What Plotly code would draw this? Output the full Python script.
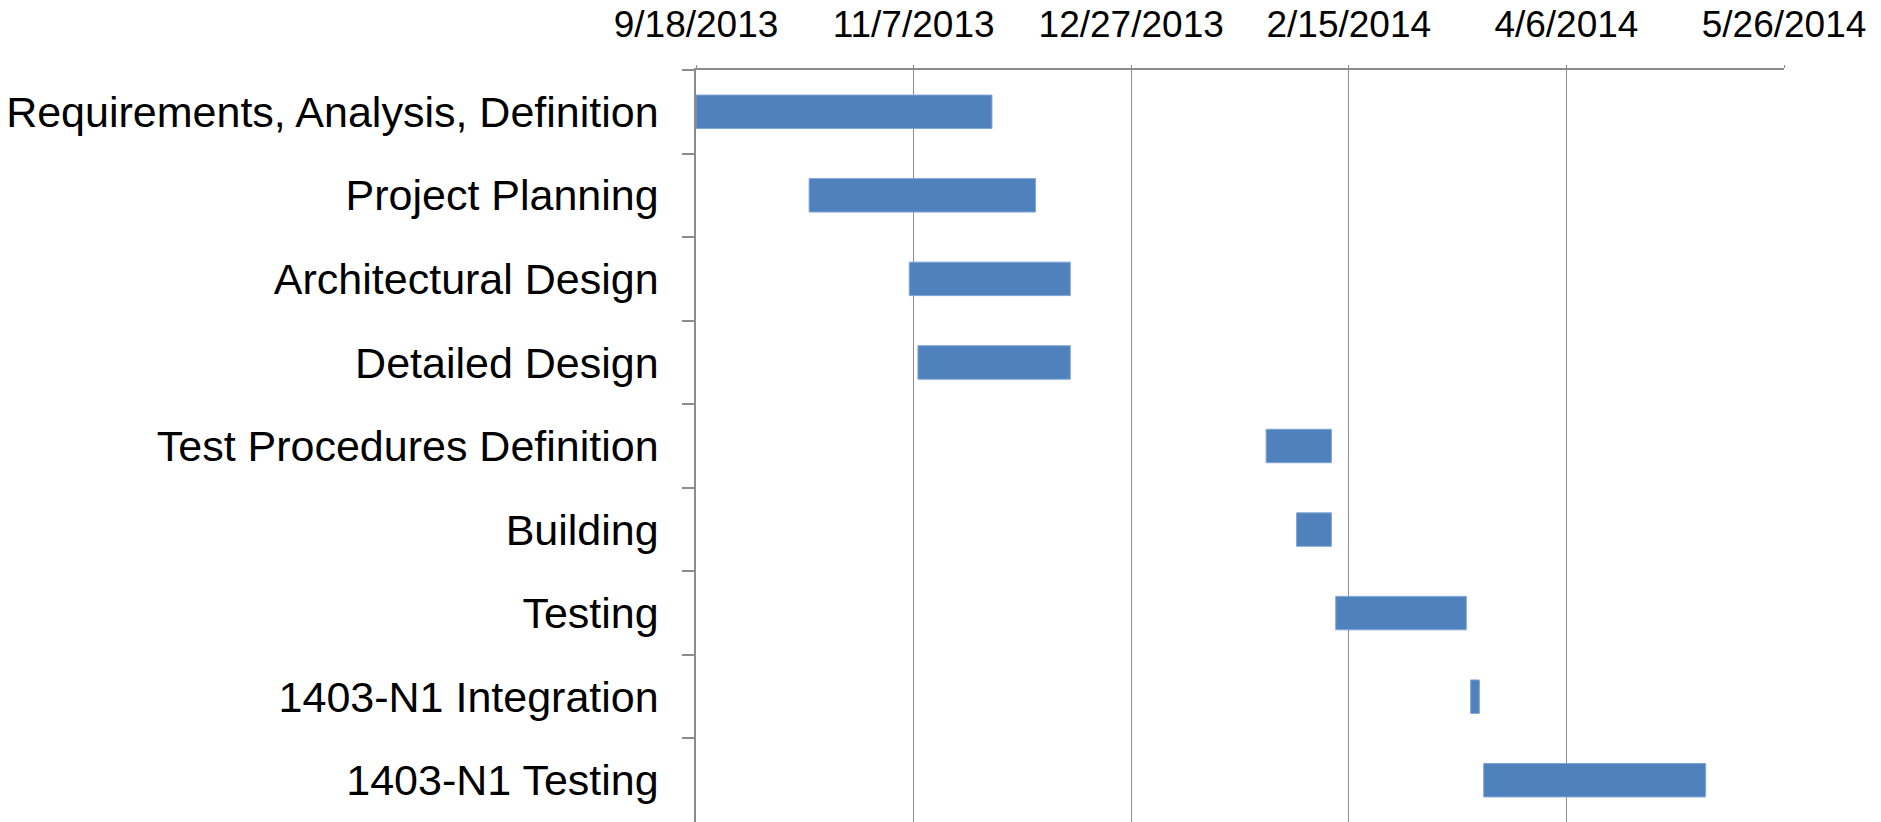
import plotly.graph_objects as go
import pandas as pd

tasks = [
    "Requirements, Analysis, Definition",
    "Project Planning",
    "Architectural Design",
    "Detailed Design",
    "Test Procedures Definition",
    "Building",
    "Testing",
    "1403-N1 Integration",
    "1403-N1 Testing",
]
start_dates = [
    "2013-09-18", "2013-10-14", "2013-11-06", "2013-11-08",
    "2014-01-27", "2014-02-03", "2014-02-12", "2014-03-15", "2014-03-18",
]
end_dates = [
    "2013-11-25", "2013-12-05", "2013-12-13", "2013-12-13",
    "2014-02-11", "2014-02-11", "2014-03-14", "2014-03-17", "2014-05-08",
]
tick_dates = ["2013-09-18", "2013-11-07", "2013-12-27", "2014-02-15", "2014-04-06", "2014-05-26"]
tick_labels = ["9/18/2013", "11/7/2013", "12/27/2013", "2/15/2014", "4/6/2014", "5/26/2014"]

starts = pd.to_datetime(pd.Series(start_dates))
ends = pd.to_datetime(pd.Series(end_dates))
durations_ms = ((ends - starts).dt.total_seconds() * 1000).tolist()

FONT = "Liberation Sans, Arial, sans-serif"
GRID = "#8c8c8c"

fig = go.Figure(
    go.Bar(
        y=tasks,
        x=durations_ms,
        base=start_dates,
        orientation="h",
        width=0.4,
        marker=dict(color="#4f81bd", line=dict(color="#7fa4d6", width=1)),
        showlegend=False,
    )
)

fig.update_layout(
    width=1881,
    height=822,
    margin=dict(l=696, r=97, t=70, b=0, autoexpand=False),
    paper_bgcolor="white",
    plot_bgcolor="white",
    font=dict(family=FONT, color="black"),
    bargap=0.6,
)

fig.update_xaxes(
    type="date",
    side="top",
    range=[tick_dates[0], tick_dates[-1]],
    tickvals=tick_dates,
    ticktext=tick_labels,
    tickfont=dict(size=37, family=FONT, color="black"),
    showgrid=True,
    gridcolor=GRID,
    gridwidth=1.3,
    showline=True,
    linecolor=GRID,
    linewidth=1.5,
    ticks="outside",
    ticklen=3,
    tickcolor=GRID,
    ticklabelstandoff=13,
    zeroline=False,
)

fig.update_yaxes(
    type="category",
    categoryorder="array",
    categoryarray=tasks,
    range=[8.5, -0.5],
    tickson="boundaries",
    ticks="outside",
    ticklen=12,
    tickcolor=GRID,
    tickwidth=1.5,
    showgrid=False,
    showline=True,
    linecolor=GRID,
    linewidth=1.5,
    tickfont=dict(size=43, family=FONT, color="black"),
    ticklabelstandoff=27,
    zeroline=False,
)

fig.write_html("out.html")
